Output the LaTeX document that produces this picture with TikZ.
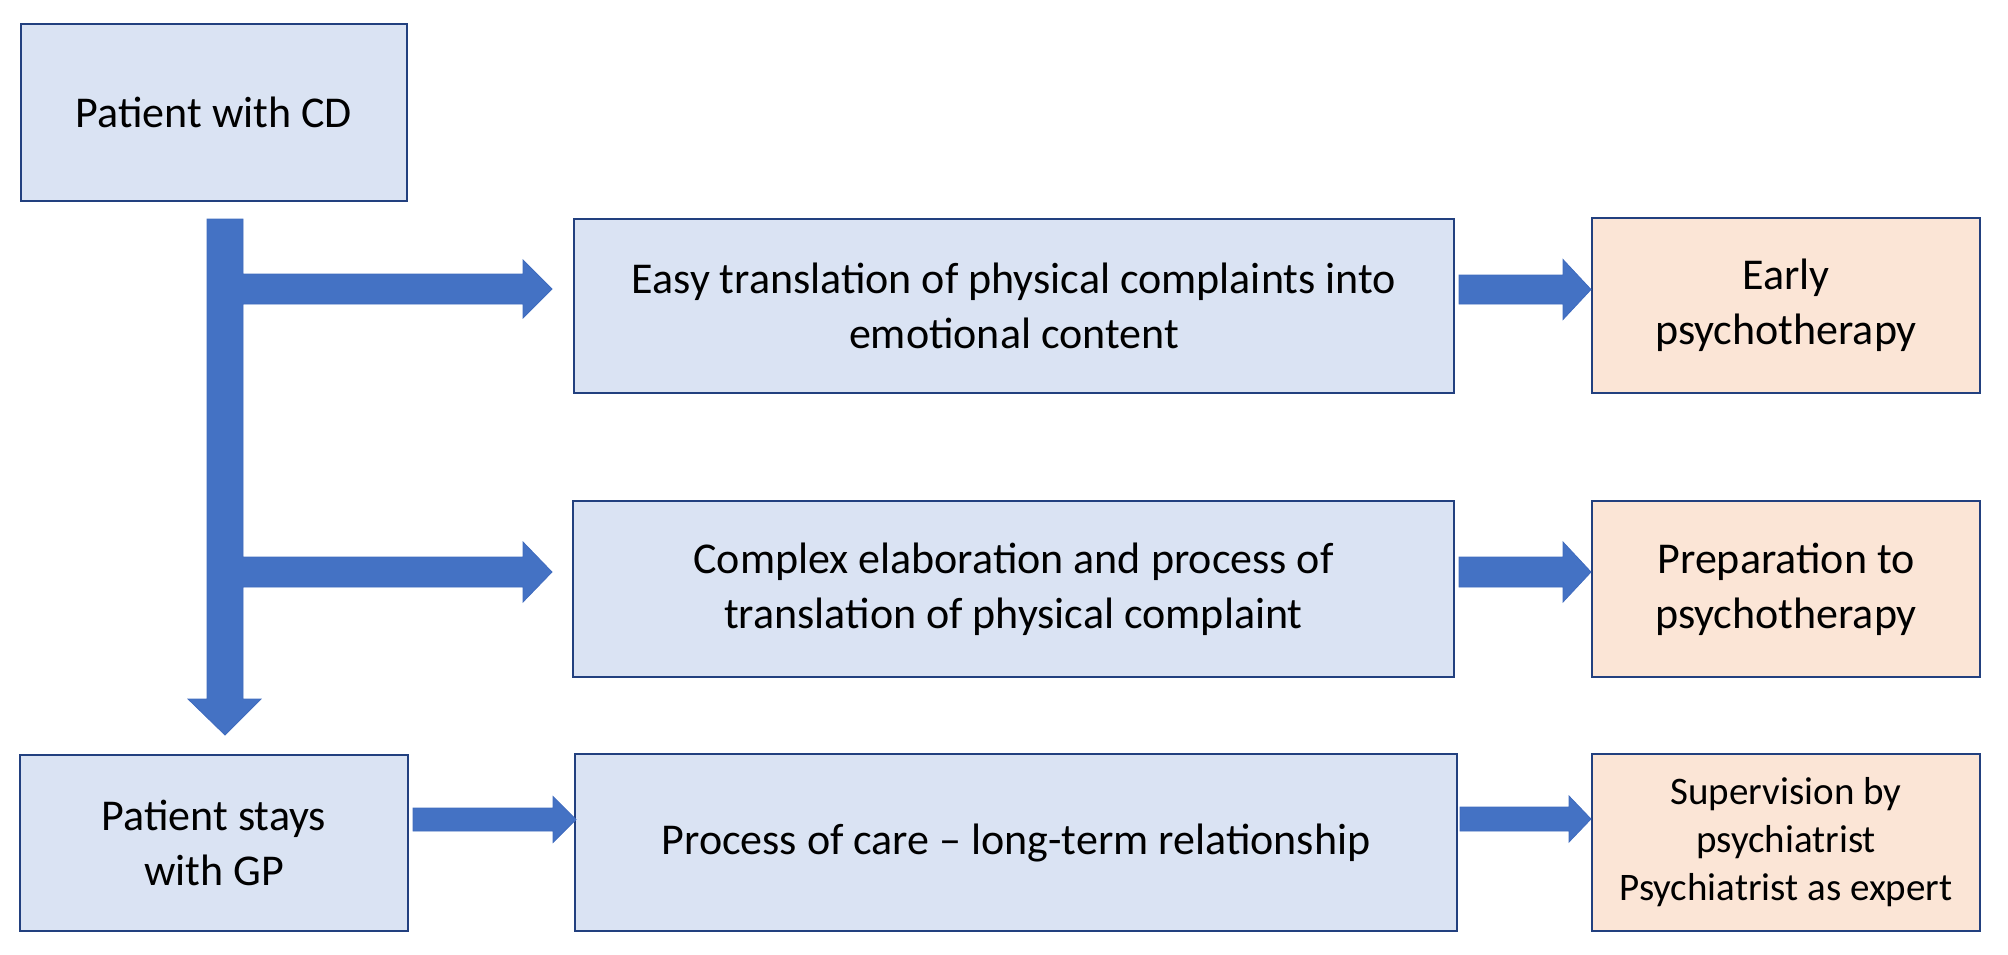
\documentclass[tikz,border=0pt]{standalone}
\usepackage{fontspec}
\setmainfont{Carlito}
\definecolor{boxblue}{HTML}{DAE3F3}
\definecolor{boxorange}{HTML}{FBE5D6}
\definecolor{edgeblue}{HTML}{22407F}
\definecolor{arrowblue}{HTML}{4472C4}
\definecolor{arrowedge}{HTML}{3F6BBE}
\newcommand\blockarrowH[6]{% x start, x tip, y centre, half shaft, half head, head length
  \filldraw[arrowshape] (#1,#3-#4) -- (#2-#6,#3-#4) -- (#2-#6,#3-#5) -- (#2,#3)
    -- (#2-#6,#3+#5) -- (#2-#6,#3+#4) -- (#1,#3+#4) -- cycle;}
\begin{document}
\begin{tikzpicture}[x=0.5pt,y=-0.5pt,
  box/.style={draw=edgeblue, line width=1.3pt, rectangle, inner sep=0pt, outer sep=0pt,
    align=center, font=\fontsize{22}{27.5}\selectfont},
  bluebox/.style={box, fill=boxblue},
  orangebox/.style={box, fill=boxorange},
  bw/.style={minimum width=#1*0.5pt},
  bh/.style={minimum height=#1*0.5pt},
  smalltext/.style={font=\fontsize{19.5}{24}\selectfont},
  arrowshape/.style={fill=arrowblue, draw=arrowedge, line width=0.4pt, line join=miter}]
\useasboundingbox (0,0) rectangle (2008,954);
% boxes
\node[bluebox, bw=386, bh=177] (b1) at (214,112.5) {Patient with CD};
\node[bluebox, bw=880, bh=174] (m1) at (1014,306) {Easy translation of physical complaints into\\emotional content};
\node[orangebox, bw=388, bh=175] (r1) at (1786,305.5) {Early\\psychotherapy};
\node[bluebox, bw=881, bh=176] (m2) at (1013.5,589) {Complex elaboration and process of\\translation of physical complaint};
\node[orangebox, bw=388, bh=176] (r2) at (1786,589) {Preparation to\\psychotherapy};
\node[bluebox, bw=388, bh=176] (l3) at (214,843) {Patient stays\\with GP};
\node[bluebox, bw=882, bh=177] (m3) at (1016,842.5) {Process of care -- long-term relationship};
\node[orangebox, smalltext, bw=388, bh=177] (r3) at (1786,842.5) {Supervision by\\psychiatrist\\Psychiatrist as expert};
% branching arrow from b1
\filldraw[arrowshape] (207,219) -- (243,219) -- (243,274) -- (523,274) -- (523,260) -- (552,289)
  -- (523,318) -- (523,304) -- (243,304) -- (243,557) -- (523,557) -- (523,542) -- (552,572)
  -- (523,602) -- (523,587) -- (243,587) -- (243,699) -- (261,699) -- (225,735) -- (188,699)
  -- (207,699) -- cycle;
% row arrows
\blockarrowH{1459}{1591}{289.5}{14.5}{30}{28}
\blockarrowH{1459}{1591}{572}{15}{30}{28}
\blockarrowH{413}{576}{819.5}{11.5}{23}{23}
\blockarrowH{1460}{1591}{819}{12}{23}{22}
\end{tikzpicture}
\end{document}
